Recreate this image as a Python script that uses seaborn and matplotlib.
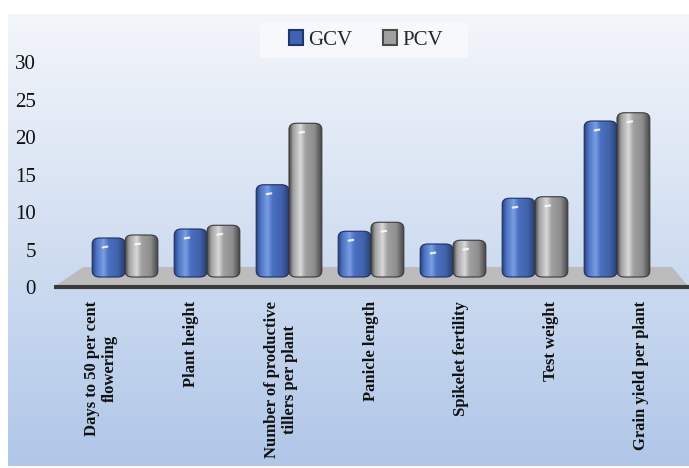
import numpy as np
import pandas as pd
import seaborn as sns
import matplotlib
matplotlib.use("Agg")
import matplotlib.pyplot as plt
from matplotlib.patches import FancyBboxPatch, Patch, Polygon, Rectangle
from matplotlib.transforms import ScaledTranslation

# ---------------- data ----------------
traits = [
    "Days to 50 per cent\nflowering",
    "Plant height",
    "Number of productive\ntillers per plant",
    "Panicle length",
    "Spikelet fertility",
    "Test weight",
    "Grain yield per plant",
]
series = ["GCV", "PCV"]
gcv = [5.2, 6.4, 12.3, 6.1, 4.4, 10.5, 20.8]
pcv = [5.6, 6.9, 20.5, 7.3, 4.9, 10.7, 21.9]
yticks = [0, 5, 10, 15, 20, 25, 30]

df = pd.DataFrame({
    "trait": traits * 2,
    "series": [series[0]] * len(traits) + [series[1]] * len(traits),
    "value": gcv + pcv,
})

# ---------------- style ----------------
sns.set_theme(style="white")
plt.rcParams["font.family"] = ["Liberation Serif", "DejaVu Serif"]

W, H = 689, 468
fig = plt.figure(figsize=(W / 100, H / 100), dpi=100)
fig.patch.set_facecolor("white")

# background gradient panel
bg = fig.add_axes([8 / W, 2 / H, 681 / W, 452 / H], zorder=0)
bg.axis("off")
top_c = np.array([0.955, 0.965, 0.982])
bot_c = np.array([0.69, 0.78, 0.91])
g = np.linspace(0, 1, 256)[:, None, None]
bg_img = top_c * (1 - g) + bot_c * g
bg.imshow(bg_img, aspect="auto", extent=[0, 1, 0, 1], interpolation="bilinear")

# main axes
ax = fig.add_axes([54 / W, 181 / H, 635 / W, 247 / H], zorder=1)
ax.patch.set_alpha(0)

palette = {"GCV": "#4a6fc0", "PCV": "#a8a8a8"}
sns.barplot(data=df, x="trait", y="value", hue="series", hue_order=series,
            palette=palette, width=0.8, dodge=True, legend=False, ax=ax)

# floor (3D-like base)
floor = Polygon([(-0.866, -1.333), (6.878, -1.333), (6.671, 1.333), (-0.512, 1.333)],
                closed=True, facecolor="#bcbcbc", edgecolor="none", zorder=0.5)
ax.add_patch(floor)
ax.plot([-0.866, 6.878], [-1.333, -1.333], color="#3a3a3a", lw=3,
        solid_capstyle="butt", clip_on=False, zorder=0.6)

# cylinder shading
shade_specs = {
    "GCV": dict(dark=(0.16, 0.25, 0.47), mid=(0.29, 0.44, 0.76), light=(0.47, 0.62, 0.89),
                edge="#1d3060"),
    "PCV": dict(dark=(0.28, 0.28, 0.28), mid=(0.63, 0.63, 0.63), light=(0.85, 0.85, 0.85),
                edge="#3a3a3a"),
}


def shade_image(spec, nx=64):
    t = np.linspace(0, 1, nx)
    stops = [0.0, 0.12, 0.35, 0.5, 0.78, 1.0]
    d, m, l = np.array(spec["dark"]), np.array(spec["mid"]), np.array(spec["light"])
    cols = [d, m, l, m, m * 0.88, d]
    img = np.stack([np.interp(t, stops, [c[i] for c in cols]) for i in range(3)], axis=-1)
    return np.repeat(img[None, :, :], 4, axis=0)


for k, (cont, name) in enumerate(zip(ax.containers, series)):
    spec = shade_specs[name]
    img = shade_image(spec)
    for rect in cont:
        x, y = rect.get_x(), rect.get_y()
        w, h = rect.get_width(), rect.get_height()
        rect.set_visible(False)
        z = 2 + k
        fb = FancyBboxPatch((x, y), w, h, boxstyle="round,pad=0,rounding_size=0.09",
                            mutation_aspect=9.0, facecolor="none", edgecolor=spec["edge"],
                            lw=0.8, transform=ax.transData, zorder=z + 0.1)
        ax.add_patch(fb)
        im = ax.imshow(img, extent=[x, x + w, y, y + h], aspect="auto", origin="lower",
                       interpolation="bilinear", zorder=z)
        im.set_clip_path(fb)
        # small specular highlight near the top
        ax.plot([x + w * 0.32, x + w * 0.46], [y + h - 1.25, y + h - 1.15],
                color="white", lw=1.6, alpha=0.85, solid_capstyle="round", zorder=z + 0.2)

ax.set_xlim(-0.866, 6.878)
ax.set_ylim(-1.333, 31.6)
ax.set_aspect("auto")
for s in ax.spines.values():
    s.set_visible(False)
ax.grid(False)
ax.set_xlabel("")
ax.set_ylabel("")

# y ticks (shifted down to the front edge of the 3D floor)
ax.set_yticks(yticks)
ax.set_yticklabels([str(v) for v in yticks], fontsize=15, color="#111111")
ax.tick_params(axis="y", length=0, pad=13)
off = ScaledTranslation(0, -0.10, fig.dpi_scale_trans)
for lab in ax.get_yticklabels():
    lab.set_transform(lab.get_transform() + off)

# x tick labels spread along the front edge (perspective)
xpos = [3 + (k - 3) * 90 / 82 for k in range(len(traits))]
ax.set_xticks(xpos)
ax.set_xticklabels(traits, rotation=90, fontsize=12, fontweight="bold", ha="center",
                   va="top", linespacing=1.1, multialignment="center", color="#111111")
ax.tick_params(axis="x", length=0, pad=10)

# legend
fig.patches.append(Rectangle((260 / W, 1 - 58 / H), 208 / W, 36 / H,
                             transform=fig.transFigure, facecolor="#f6f8fb",
                             edgecolor="none", zorder=1.5))
handles = [Patch(facecolor="#3f63b4", edgecolor="#1d3570", lw=1.5),
           Patch(facecolor="#a0a0a0", edgecolor="#4a4a4a", lw=1.5)]
leg = fig.legend(handles, series, loc="center", bbox_to_anchor=(366 / W, 1 - 40 / H),
                 ncol=2, frameon=False, fontsize=15, handlelength=0.7, handleheight=0.7,
                 handletextpad=0.25, columnspacing=1.45, borderpad=0.2)
leg.set_zorder(3)

fig.savefig("out.png", dpi=100, facecolor="white")
